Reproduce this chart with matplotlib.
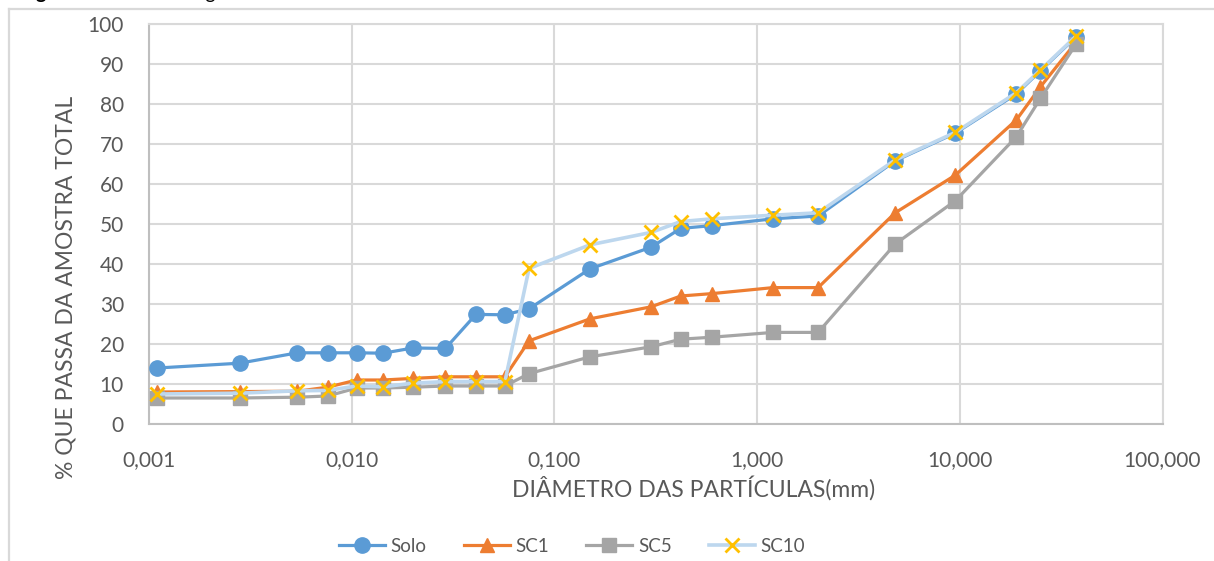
import matplotlib
matplotlib.use("Agg")
import matplotlib.pyplot as plt
from matplotlib.lines import Line2D

# Sieve / sedimentation diameters (mm)
diametro = [0.0011, 0.0028, 0.0054, 0.0076, 0.0106, 0.0143, 0.020, 0.029,
            0.041, 0.057, 0.075, 0.15, 0.30, 0.42, 0.60, 1.2, 2.0, 4.8,
            9.5, 19.0, 25.0, 37.5]

# Percent passing for each sample
solo = [14.0, 15.2, 17.8, 17.8, 17.8, 17.7, 19.0, 18.9, 27.4, 27.3, 28.8,
        38.8, 44.2, 48.9, 49.6, 51.3, 52.0, 65.8, 72.7, 82.5, 88.3, 96.8]
sc1 = [8.0, 8.1, 8.2, 9.2, 11.0, 11.0, 11.4, 11.8, 11.8, 11.8, 20.8,
       26.3, 29.3, 32.0, 32.6, 34.1, 34.1, 52.8, 62.2, 76.0, 84.3, 95.5]
sc5 = [6.5, 6.5, 6.7, 7.0, 9.0, 9.0, 9.2, 9.5, 9.5, 9.5, 12.6,
       16.8, 19.3, 21.2, 21.7, 22.9, 22.9, 45.0, 55.8, 71.8, 81.4, 95.0]
sc10 = [7.5, 7.7, 8.3, 8.4, 9.5, 9.3, 10.2, 10.6, 10.6, 10.6, 38.9,
        44.8, 47.9, 50.6, 51.3, 52.2, 52.8, 66.0, 72.9, 82.8, 88.5, 97.0]

serie_nomes = ["Solo", "SC1", "SC5", "SC10"]
x_ticks = [0.001, 0.01, 0.1, 1, 10, 100]
x_tick_labels = ["0,001", "0,010", "0,100", "1,000", "10,000", "100,000"]
y_ticks = list(range(0, 101, 10))

W, H = 1214, 561
fig = plt.figure(figsize=(W / 100, H / 100), dpi=100)
plt.rcParams['font.family'] = ['Lato', 'DejaVu Sans']

txt = "#595959"
grid_c = "#D9D9D9"
axis_c = "#BFBFBF"

# outer chart frame
fig.add_artist(Line2D([9 / W, 9 / W], [0, 1 - 9 / H], transform=fig.transFigure,
                      color=grid_c, lw=1.6))
fig.add_artist(Line2D([9 / W, 1], [1 - 9 / H, 1 - 9 / H], transform=fig.transFigure,
                      color=grid_c, lw=1.6))

# caption line, running off the top edge
fig.text(20 / W, 1 + 1.5 / H, "Figura 10", fontsize=14, fontweight="bold",
         color="black", va="baseline", ha="left")
fig.text(120 / W, 1 + 1.5 / H, " – Curvas granulométricas", fontsize=14,
         color="black", va="baseline", ha="left")

left, right, top, bottom = 149, 1162.5, 24, 424
ax = fig.add_axes([left / W, 1 - bottom / H, (right - left) / W, (bottom - top) / H])
ax.set_xscale("log")
ax.set_xlim(0.001, 100)
ax.set_ylim(0, 100)

ax.plot(diametro, solo, color="#5B9BD5", lw=2.3, marker="o", ms=11,
        mfc="#5B9BD5", mec="#5B9BD5", label=serie_nomes[0], zorder=3)
ax.plot(diametro, sc1, color="#ED7D31", lw=2.3, marker="^", ms=10,
        mfc="#ED7D31", mec="#ED7D31", label=serie_nomes[1], zorder=4)
ax.plot(diametro, sc5, color="#A5A5A5", lw=2.3, marker="s", ms=9.5,
        mfc="#A5A5A5", mec="#A5A5A5", label=serie_nomes[2], zorder=5)
ax.plot(diametro, sc10, color="#BDD7EE", lw=2.6, marker="x", ms=9.5,
        mew=2.0, mfc="#FFC000", mec="#FFC000", label=serie_nomes[3], zorder=6)

ax.set_xticks(x_ticks)
ax.set_xticklabels(x_tick_labels)
ax.xaxis.set_minor_locator(matplotlib.ticker.NullLocator())
ax.set_yticks(y_ticks)
ax.tick_params(axis="both", length=0, labelsize=15, colors=txt)
ax.tick_params(axis="x", pad=19)
ax.tick_params(axis="y", pad=18)

ax.grid(True, which="major", color=grid_c, lw=1.5, zorder=0)
ax.set_axisbelow(True)
for s in ["top", "right"]:
    ax.spines[s].set_color(grid_c)
    ax.spines[s].set_linewidth(1.5)
for s in ["left", "bottom"]:
    ax.spines[s].set_color(axis_c)
    ax.spines[s].set_linewidth(1.5)

fig.text(66 / W, 1 - 287 / H, "% QUE PASSA DA AMOSTRA TOTAL", rotation=90,
         fontsize=16.5, color=txt, ha="center", va="center")
fig.text(694 / W, 1 - 488 / H, "DIÂMETRO DAS PARTÍCULAS(mm)",
         fontsize=16.5, color=txt, ha="center", va="center")

fig.legend(loc="center", bbox_to_anchor=(572 / W, 1 - 546 / H), ncol=4,
           frameon=False, fontsize=13.5, labelcolor=txt, handlelength=2.45,
           columnspacing=2.0, handletextpad=0.3)

fig.savefig("out.png", dpi=100, facecolor="white")
